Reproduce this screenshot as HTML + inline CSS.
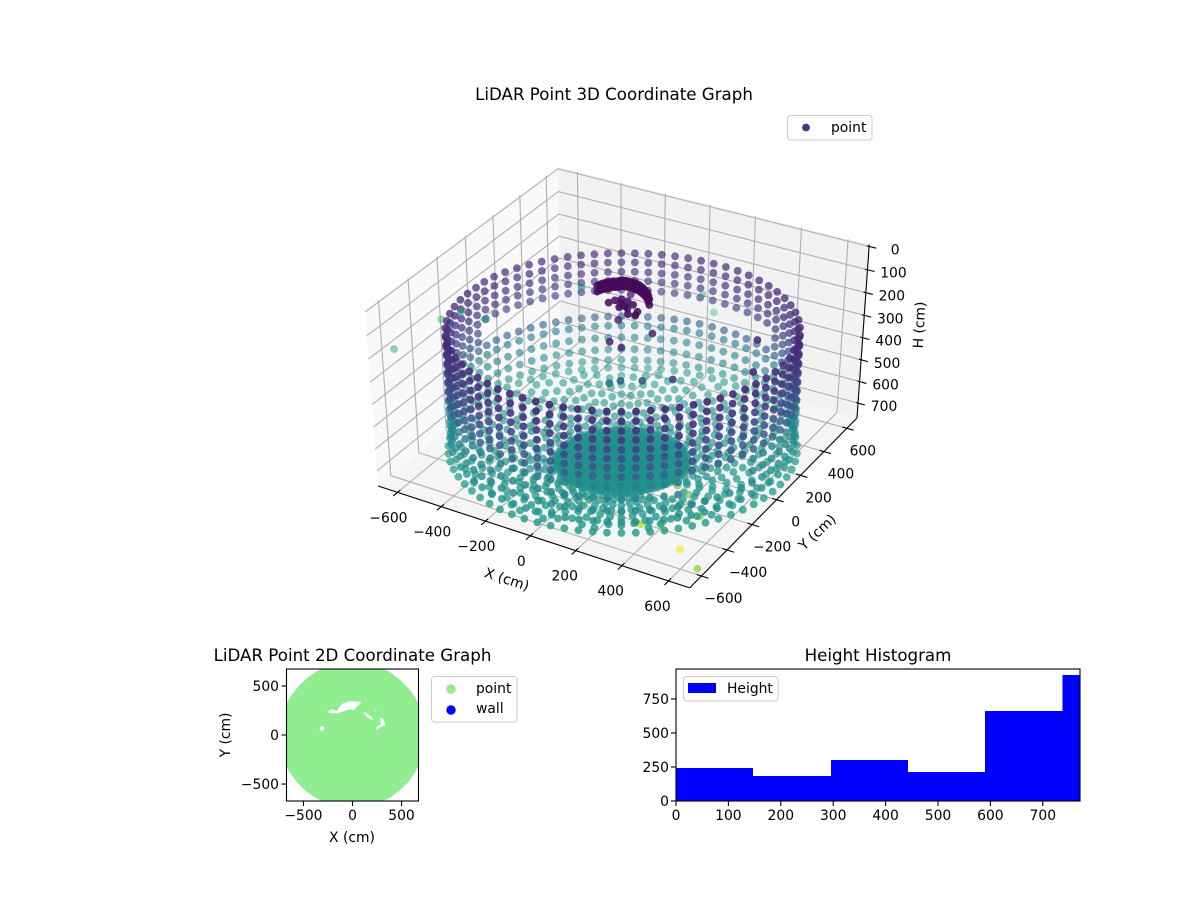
<!DOCTYPE html>
<html lang="en">
<head>
<meta charset="utf-8">
<title>LiDAR Point Graphs</title>
<style>
html,body{margin:0;padding:0;background:#fff;}
svg{display:block;}
text{font-family:"DejaVu Sans","Liberation Sans",sans-serif;fill:#000;}
.t{font-size:13.89px;}
.h{font-size:16.67px;}
</style>
</head>
<body>
<svg id="figure" xmlns="http://www.w3.org/2000/svg" width="1200" height="900" viewBox="0 0 1200 900">
  <defs>
    <clipPath id="plan-clip"><rect x="286.5" y="669" width="132" height="132"/></clipPath>
    <clipPath id="hist-clip"><rect x="676" y="669" width="404" height="132"/></clipPath>
  </defs>

  <g id="plot3d">
    <g id="panes"></g>
    <g id="grid3d"></g>
    <g id="axes3d"></g>
    <g id="points3d"></g>
    <text class="h" x="614" y="100" text-anchor="middle">LiDAR Point 3D Coordinate Graph</text>
    <text class="t" transform="translate(507,579) rotate(18)" text-anchor="middle" y="5">X (cm)</text>
    <text class="t" transform="translate(817,532) rotate(-43)" text-anchor="middle" y="5">Y (cm)</text>
    <text class="t" transform="translate(919,325) rotate(-87)" text-anchor="middle" y="5">H (cm)</text>
    <g>
      <rect x="787.5" y="115.5" width="84.5" height="24.5" rx="3" fill="#fff" fill-opacity="0.8" stroke="#ccc" stroke-width="1"/>
      <circle cx="806" cy="127.5" r="3.9" fill="#443983"/>
      <text class="t" x="831" y="132">point</text>
    </g>
  </g>

  <g id="plan">
    <g id="planMarks" clip-path="url(#plan-clip)"></g>
    <rect x="286.5" y="669" width="132" height="132" fill="none" stroke="#000" stroke-width="1.1"/>
    <g id="planAxes"></g>
    <text class="h" x="352.5" y="661" text-anchor="middle">LiDAR Point 2D Coordinate Graph</text>
    <text class="t" x="352" y="842" text-anchor="middle">X (cm)</text>
    <text class="t" transform="translate(225,735) rotate(-90)" text-anchor="middle" y="5">Y (cm)</text>
    <g>
      <rect x="431.5" y="676.5" width="85.5" height="45.5" rx="3" fill="#fff" stroke="#ccc" stroke-width="1"/>
      <circle cx="451" cy="689" r="4.7" fill="#90ee90"/>
      <circle cx="451" cy="710" r="4.7" fill="#0000ff"/>
      <text class="t" x="476" y="693">point</text>
      <text class="t" x="476" y="713">wall</text>
    </g>
  </g>

  <g id="hist">
    <g id="histBars" clip-path="url(#hist-clip)" shape-rendering="crispEdges"></g>
    <rect x="676" y="669" width="404" height="132" fill="none" stroke="#000" stroke-width="1.1"/>
    <g id="histAxes"></g>
    <text class="h" x="878" y="661" text-anchor="middle">Height Histogram</text>
    <g>
      <rect x="683.5" y="676.5" width="94.5" height="24.5" rx="3" fill="#fff" fill-opacity="0.8" stroke="#ccc" stroke-width="1"/>
      <rect x="688" y="683" width="28" height="10" fill="#0000ff"/>
      <text class="t" x="727" y="693">Height</text>
    </g>
  </g>
</svg>

<script>
// ---------- 3D chart data ----------
const xTicks3d = [-600, -400, -200, 0, 200, 400, 600];
const yTicks3d = [-600, -400, -200, 0, 200, 400, 600];
const hTicks3d = [0, 100, 200, 300, 400, 500, 600, 700];
const xyLimits3d = [-690, 690];
const hLimits3d = [-8, 770];

const scanAzimuths = [-180,-175,-170,-165,-160,-155,-150,-145,-140,-135,-130,-125,-120,-115,-110,-105,-100,-95,-90,-85,-80,-75,-70,-65,-60,-55,-50,-45,-40,-35,-30,-25,-20,-15,-10,-5,0,5,10,15,20,25,30,35,40,45,50,55,60,65,70,75,80,85,90,95,100,105,110,115,120,125,130,135,140,145,150,155,160,165,170,175];
const azimuthReach = [0.96,0.967,0.973,0.978,0.982,0.984,0.985,
  0.984,0.982,0.978,0.973,0.967,0.962,0.958,0.952,0.948,0.939,0.931,0.924,0.918,0.913,0.908,0.905,0.903,0.903,
  0.903,0.905,0.908,0.913,0.918,0.924,0.931,0.939,0.948,0.956,0.965,0.973,0.980,0.987,0.992,0.997,0.999,1,
  0.999,0.997,0.992,0.987,0.980,0.973,0.965,0.956,0.948,0.939,0.931,0.924,0.918,0.913,0.908,0.905,0.903,0.903,
  0.903,0.905,0.908,0.913,0.918,0.924,0.931,0.939,0.948,0.956,0.96];
const floorStagger = [12,-18,6,22,-10,-24,14,4,-20,18,-6,24,-14,8,-22,2,16,-12,20,-4,-26,10,26,-8,0,-16,24,6,-22,12,-2,18,-24,8,-12,22,-6,14,-20,4,26,-14,-4,20,-10,16,-26,2,22,-18,8,-8,24,-16,12,-2,-22,18,6,-12,0,-20,14,24,-6,-16,10,20,-24,4,-10,16];
const wallRadius = [678];
const wallHeights = [207,248,290,330,372,412,452,492,535,590,645,695];
const wallShades = [0.12,0.135,0.15,0.17,0.2,0.23,0.27,0.31,0.43,0.45,0.47,0.5];
const wallGapAzimuths = [60, 178];
const wallGapHeights = [395, 480];
const lowerWallGapAzimuths = [-35, -15];
const lowerWallGapHeights = [530, 600];
const floorRadii = [12,30,50,70,90,110,130,150,170,190,210,230,250,262,300,360,425,490,555,625,690];
const floorHeights = [812,812,812,811,811,810,810,809,809,808,808,807,806,805,795,783,770,760,750,743,738];
const floorShades = [0.5,0.5,0.5,0.5,0.5,0.5,0.5,0.5,0.5,0.5,0.5,0.5,0.5,0.5,0.51,0.51,0.52,0.53,0.54,0.55,0.55];
const floorGapAzimuths = [-40, -15];
const floorGapRadii = [300, 360];

const arcX = [-83,-79,-75,-68,-62,-55,-49,-40,-32,-27,-22,-12,-1,10,21,34,47,60,74,90,105,122,138];
const arcY = [-38,-26,-13,-4,4,13,22,27,32,40,47,49,50,51,52,50,47,40,32,21,10,-10,-31];
const arcHeights = [27,52];
const blobX = [17,29,46,75,105,145,151,123,69,82,60,100];
const blobY = [-125,-98,-79,-82,-95,-132,-158,-165,-136,-118,-107,-129];
const blobH = [30,30,30,30,30,30,30,30,30,30,30,30];

const strayX = [-701,-673,208,100,-619,-640,-527,-339,7,62,122,170,-52,535,632,402,241,310,214,534,654,308,377,489,387,320];
const strayY = [-505,-218,351,459,-247,-129,-134,276,-36,-195,-211,-62,161,88,-127,-320,-424,-384,-459,-484,-566,-99,-134,-249,-360,-409];
const strayH = [250,250,250,250,250,250,250,250,150,150,150,150,150,150,150,150,150,150,150,770,770,770,770,770,770,770];
const strayShade = [0.66,0.66,0.7,0.62,0.35,0.55,0.55,0.45,0.1,0.1,0.12,0.1,0.12,0.12,0.12,0.2,0.32,0.32,0.4,0.98,0.82,0.78,0.78,0.82,0.85,0.9];
const strayFade = [0.7,0.7,0.6,0.6,0.9,0.8,0.8,0.8,1,1,1,1,1,1,1,1,1,1,1,0.75,0.85,1,1,1,1,1];

// ---------- 2D chart data ----------
const planTicks = [-500, 0, 500];
const planLimits = [-673, 673];
const outlineBearings = [0,10,20,30,40,50,60,70,80,90,100,110,120,130,140,150,160,170,180,190,200,210,220,230,240,250,260,270,280,290,300,310,320,330,340,350];
const outlineReach = [748,745,742,746,744,742,747,744,746,750,745,742,746,744,742,747,744,745,746,744,742,746,743,745,742,746,744,748,744,742,746,743,745,742,746,744];
const holeXs = [
  [-255,-211,-160,-109,-41,44,95,44,17,-41,-92,-160,-228],
  [112,146,197,207,163,129],
  [221,248,238],
  [282,309,337,282,248,238,289],
  [-337,-316,-289,-289,-330]
];
const holeYs = [
  [238,262,248,316,343,343,337,289,255,262,241,221,221],
  [235,221,180,153,170,204],
  [262,255,241],
  [170,170,102,78,51,78,112],
  [58,92,78,51,44]
];

// ---------- histogram data ----------
const heightBinEdges = [0,147,296,443,590,738,885];
const heightCounts = [243,184,301,213,662,926];
const histXTicks = [0,100,200,300,400,500,600,700];
const histYTicks = [0,250,500,750];
const histXLimits = [0,771];
const histYLimits = [0,970];

// ---------- helpers ----------
const NS = 'http://www.w3.org/2000/svg';
function mk(parent, tag, attrs, txt) {
  const el = document.createElementNS(NS, tag);
  for (const k in attrs) el.setAttribute(k, attrs[k]);
  if (txt !== undefined) el.textContent = txt;
  parent.appendChild(el);
  return el;
}
function fmt(v) { return v < 0 ? '\u2212' + Math.abs(v) : String(v); }
function within(v, range) { return v >= range[0] && v <= range[1]; }

// ---------- 3D projection ----------
const boxAspect = [4, 4, 3];
const aspectNorm = Math.hypot(boxAspect[0], boxAspect[1], boxAspect[2]);
const box = boxAspect.map(function (v) { return v * 1.8294640721620434 / aspectNorm; });
const elev = 37 * Math.PI / 180, azim = -60 * Math.PI / 180, camDist = 10;
const centre = box.map(function (v) { return v / 2; });
const wv = [Math.cos(elev) * Math.cos(azim), Math.cos(elev) * Math.sin(azim), Math.sin(elev)];
const eye = [centre[0] + camDist * wv[0], centre[1] + camDist * wv[1], centre[2] + camDist * wv[2]];
function cross(a, b) { return [a[1]*b[2]-a[2]*b[1], a[2]*b[0]-a[0]*b[2], a[0]*b[1]-a[1]*b[0]]; }
function unit(a) { const n = Math.hypot(a[0], a[1], a[2]); return [a[0]/n, a[1]/n, a[2]/n]; }
const uv = unit(cross([0, 0, 1], wv));
const vv = cross(wv, uv);
function rawProject(x, y, h) {
  const px = (x - xyLimits3d[0]) / (xyLimits3d[1] - xyLimits3d[0]) * box[0] - eye[0];
  const py = (y - xyLimits3d[0]) / (xyLimits3d[1] - xyLimits3d[0]) * box[1] - eye[1];
  const pz = (hLimits3d[1] - h) / (hLimits3d[1] - hLimits3d[0]) * box[2] - eye[2];
  const cx = uv[0]*px + uv[1]*py + uv[2]*pz;
  const cy = vv[0]*px + vv[1]*py + vv[2]*pz;
  const cz = wv[0]*px + wv[1]*py + wv[2]*pz;
  return { x: cx / -cz, y: cy / -cz, d: -cz };
}
const xMin = xyLimits3d[0], xMax = xyLimits3d[1], hTop = hLimits3d[0], hBot = hLimits3d[1];
const anchorA = rawProject(xMin, xMin, hBot), anchorC = rawProject(xMax, xMax, hBot);
const anchorD = rawProject(xMin, xMax, hTop);
const scaleX = (857 - 378) / (anchorC.x - anchorA.x);
const offsetX = 378 - scaleX * anchorA.x;
// screen y is fitted to three box corners
const det = anchorA.x*(anchorC.y-anchorD.y) - anchorA.y*(anchorC.x-anchorD.x) + (anchorC.x*anchorD.y-anchorD.x*anchorC.y);
const yA = 486, yC = 418, yD = 167;
const fitA = (yA*(anchorC.y-anchorD.y) - anchorA.y*(yC-yD) + (yC*anchorD.y-yD*anchorC.y)) / det;
const fitB = (anchorA.x*(yC-yD) - yA*(anchorC.x-anchorD.x) + (anchorC.x*yD-anchorD.x*yC)) / det;
const fitC = yA - fitA*anchorA.x - fitB*anchorA.y;
const frontCornerLift = 7;
function project(x, y, h) {
  const r = rawProject(x, y, h);
  const wx = (x - xMin) / (xMax - xMin), wy = (xMax - y) / (xMax - xMin);
  return { x: scaleX * r.x + offsetX, y: fitA * r.x + fitB * r.y + fitC + frontCornerLift * wx * wy, d: r.d };
}
function polyPoints(list) {
  return list.map(function (p) { const q = project(p[0], p[1], p[2]); return q.x.toFixed(2) + ',' + q.y.toFixed(2); }).join(' ');
}

// panes
const panes = document.getElementById('panes');
const leftPane = mk(panes, 'polygon', { points: polyPoints([[xMin,xMin,hBot],[xMin,xMax,hBot],[xMin,xMax,hTop],[xMin,xMin,hTop]]), fill: '#f9f9f9' });


const backPane = mk(panes, 'polygon', { points: polyPoints([[xMin,xMax,hBot],[xMax,xMax,hBot],[xMax,xMax,hTop],[xMin,xMax,hTop]]), fill: '#f2f2f2' });


const floorPane = mk(panes, 'polygon', { points: polyPoints([[xMin,xMin,hBot],[xMax,xMin,hBot],[xMax,xMax,hBot],[xMin,xMax,hBot]]), fill: '#f5f5f5' });



// grid
const grid3d = document.getElementById('grid3d');
const gridStyle = { fill: 'none', stroke: '#b0b0b0', 'stroke-width': 1.1 };
xTicks3d.forEach(function (v) {
  const g = mk(grid3d, 'polyline', Object.assign({ points: polyPoints([[v,xMin,hBot],[v,xMax,hBot],[v,xMax,hTop]]) }, gridStyle));
  
  
});
yTicks3d.forEach(function (v) {
  const g = mk(grid3d, 'polyline', Object.assign({ points: polyPoints([[xMax,v,hBot],[xMin,v,hBot],[xMin,v,hTop]]) }, gridStyle));
  
  
});
hTicks3d.forEach(function (v) {
  const g = mk(grid3d, 'polyline', Object.assign({ points: polyPoints([[xMin,xMin,v],[xMin,xMax,v],[xMax,xMax,v]]) }, gridStyle));
  
  
});

// axes
const axes3d = document.getElementById('axes3d');
function axisSeg(a, b, w) {
  const p = project(a[0], a[1], a[2]), q = project(b[0], b[1], b[2]);
  return mk(axes3d, 'line', { x1: p.x, y1: p.y, x2: q.x, y2: q.y, stroke: '#000', 'stroke-width': w });
}
const xAxisLine = axisSeg([xMin,xMin,hBot], [xMax,xMin,hBot], 1.1);


const yAxisLine = axisSeg([xMax,xMin,hBot], [xMax,xMax,hBot], 1.1);


const hAxisLine = axisSeg([xMax,xMax,hBot], [xMax,xMax,hTop], 1.1);



xTicks3d.forEach(function (v) {
  const t = axisSeg([v, xMin + 20, hBot], [v, xMin - 30, hBot], 1.1);
  
  
  const p = project(v, xMin, hBot);
  const l = mk(axes3d, 'text', { class: 't', x: p.x - 9 - (v > 0 ? 2 : 0), y: p.y + 30, 'text-anchor': 'middle' }, fmt(v));
  
  
});
yTicks3d.forEach(function (v) {
  const t = axisSeg([xMax - 20, v, hBot], [xMax + 30, v, hBot], 1.1);
  
  
  const p = project(xMax, v, hBot);
  const l = mk(axes3d, 'text', { class: 't', x: p.x + 16 + (600 - v) / 1200 * 6, y: p.y + 27, 'text-anchor': 'middle' }, fmt(v));
  
  
});
hTicks3d.forEach(function (v) {
  const t = axisSeg([xMax - 10, xMax, v], [xMax + 30, xMax, v], 1.1);
  
  
  const p = project(xMax, xMax, v);
  const l = mk(axes3d, 'text', { class: 't', x: p.x + 26, y: p.y + 8, 'text-anchor': 'middle' }, fmt(v));
  
  
});

// colour map
const viridisStops = [[68,1,84],[72,36,117],[65,68,135],[53,95,141],[42,120,142],[33,145,140],[34,168,132],[68,191,112],[122,209,81],[189,223,38],[253,231,37]];
function viridis(t) {
  const c = Math.max(0, Math.min(0.9999, t)) * (viridisStops.length - 1);
  const i = Math.floor(c), f = c - i;
  const a = viridisStops[i], b = viridisStops[i + 1];
  return 'rgb(' + Math.round(a[0]+(b[0]-a[0])*f) + ',' + Math.round(a[1]+(b[1]-a[1])*f) + ',' + Math.round(a[2]+(b[2]-a[2])*f) + ')';
}

// assemble the cloud from the arrays
const cloud = [];
scanAzimuths.forEach(function (az, k) {
  const rad = az * Math.PI / 180;
  const reach = azimuthReach[k];
  wallHeights.forEach(function (h, j) {
    if (within(az, wallGapAzimuths) && within(h, wallGapHeights)) return;
    if (within(az, lowerWallGapAzimuths) && within(h, lowerWallGapHeights)) return;
    cloud.push([wallRadius[0] * reach * Math.cos(rad), wallRadius[0] * reach * Math.sin(rad), h, wallShades[j], 1]);
  });
  floorRadii.forEach(function (r, i) {
    if (within(az, floorGapAzimuths) && within(r, floorGapRadii)) return;
    const rr = (i >= 14 && i < floorRadii.length - 1) ? r + floorStagger[k] : r;
    cloud.push([rr * reach * Math.cos(rad), rr * reach * Math.sin(rad), floorHeights[i], floorShades[i], 1]);
  });
});
arcHeights.forEach(function (h) {
  arcX.forEach(function (x, i) { cloud.push([x, arcY[i], h, 0.02, 1]); });
});
blobX.forEach(function (x, i) { cloud.push([x, blobY[i], blobH[i], 0.03, 1]); });
strayX.forEach(function (x, i) { cloud.push([x, strayY[i], strayH[i], strayShade[i], strayFade[i]]); });

const projected = cloud.map(function (p) {
  const q = project(p[0], p[1], p[2]);
  return { x: q.x, y: q.y, d: q.d, t: p[3], f: p[4] };
});
let dMin = Infinity, dMax = -Infinity;
projected.forEach(function (p) { if (p.d < dMin) dMin = p.d; if (p.d > dMax) dMax = p.d; });
projected.sort(function (a, b) { return b.d - a.d; });
const pointsLayer = document.getElementById('points3d');
projected.forEach(function (p) {
  const alpha = (0.95 - 0.4 * (p.d - dMin) / (dMax - dMin)) * p.f;
  const c = mk(pointsLayer, 'circle', { cx: p.x.toFixed(1), cy: p.y.toFixed(1), r: 3.9, fill: viridis(p.t), 'fill-opacity': alpha.toFixed(2) });
  
  
});

// ---------- 2D plan ----------
function planX(v) { return 286.5 + (v - planLimits[0]) / (planLimits[1] - planLimits[0]) * 132; }
function planY(v) { return 801 - (v - planLimits[0]) / (planLimits[1] - planLimits[0]) * 132; }
const planMarks = document.getElementById('planMarks');
const outlinePts = outlineBearings.map(function (b, i) {
  const a = b * Math.PI / 180;
  return planX(outlineReach[i] * Math.cos(a)).toFixed(1) + ',' + planY(outlineReach[i] * Math.sin(a)).toFixed(1);
}).join(' ');
const planFill = mk(planMarks, 'polygon', { points: outlinePts, fill: '#90ee90' });


holeXs.forEach(function (xs, k) {
  const pts = xs.map(function (x, i) { return planX(x).toFixed(1) + ',' + planY(holeYs[k][i]).toFixed(1); }).join(' ');
  const h = mk(planMarks, 'polygon', { points: pts, fill: '#fff' });
  
  
});
const planAxes = document.getElementById('planAxes');
planTicks.forEach(function (v) {
  const tx = mk(planAxes, 'line', { x1: planX(v), x2: planX(v), y1: 801, y2: 806, stroke: '#000', 'stroke-width': 1.1 });
  
  
  const lx = mk(planAxes, 'text', { class: 't', x: planX(v), y: 820, 'text-anchor': 'middle' }, fmt(v));
  
  
  const ty = mk(planAxes, 'line', { x1: 281.5, x2: 286.5, y1: planY(v), y2: planY(v), stroke: '#000', 'stroke-width': 1.1 });
  
  
  const ly = mk(planAxes, 'text', { class: 't', x: 279, y: planY(v) + 5, 'text-anchor': 'end' }, fmt(v));
  
  
});

// ---------- histogram ----------
function histX(v) { return 676 + (v - histXLimits[0]) / (histXLimits[1] - histXLimits[0]) * 404; }
function histY(v) { return 801 - (v - histYLimits[0]) / (histYLimits[1] - histYLimits[0]) * 132; }
const histBars = document.getElementById('histBars');
heightCounts.forEach(function (n, i) {
  const b = mk(histBars, 'rect', { x: histX(heightBinEdges[i]), y: histY(n), width: histX(heightBinEdges[i + 1]) - histX(heightBinEdges[i]), height: 801 - histY(n), fill: '#0000ff' });
  
  
});
const histAxes = document.getElementById('histAxes');
histXTicks.forEach(function (v) {
  const t = mk(histAxes, 'line', { x1: histX(v), x2: histX(v), y1: 801, y2: 806, stroke: '#000', 'stroke-width': 1.1 });
  
  
  const l = mk(histAxes, 'text', { class: 't', x: histX(v), y: 820, 'text-anchor': 'middle' }, fmt(v));
  
  
});
histYTicks.forEach(function (v) {
  const t = mk(histAxes, 'line', { x1: 671, x2: 676, y1: histY(v), y2: histY(v), stroke: '#000', 'stroke-width': 1.1 });
  
  
  const l = mk(histAxes, 'text', { class: 't', x: 669, y: histY(v) + 5, 'text-anchor': 'end' }, fmt(v));
  
  
});
</script>
</body>
</html>
